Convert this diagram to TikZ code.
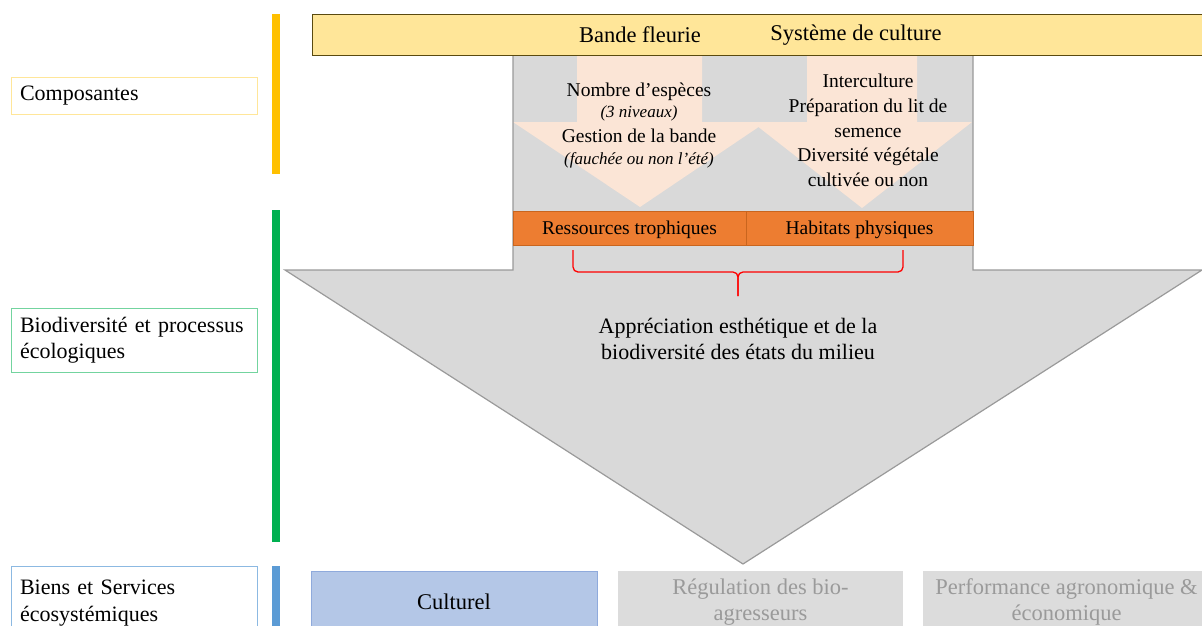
\documentclass[tikz,border=0pt]{standalone}
\usepackage{fontspec}
\setmainfont{Liberation Serif}
\usepackage{tikz}
\usetikzlibrary{calc}

\definecolor{jauneclair}{HTML}{FFE699}
\definecolor{bordbandeau}{HTML}{5A4A10}
\definecolor{grisfond}{HTML}{D9D9D9}
\definecolor{grisbord}{HTML}{9A9A9A}
\definecolor{peche}{HTML}{FBE5D6}
\definecolor{orangefonce}{HTML}{ED7D31}
\definecolor{bordorange}{HTML}{C9651E}
\definecolor{barrejaune}{HTML}{FFC000}
\definecolor{barreverte}{HTML}{00B050}
\definecolor{barrebleue}{HTML}{5B9BD5}
\definecolor{bleuclair}{HTML}{B4C7E7}
\definecolor{bordbleu}{HTML}{8FAADC}
\definecolor{grisclair}{HTML}{DCDCDC}
\definecolor{textegris}{HTML}{9A9A9A}
\definecolor{rougeacc}{HTML}{FF0000}

\begin{document}
\begin{tikzpicture}[x=1pt, y=-1pt,
  grand/.style={font=\fontsize{22.5}{25.5}\selectfont, align=center, inner sep=0pt},
  moyen/.style={font=\fontsize{19.5}{24.7}\selectfont, align=center, inner sep=0pt},
  etiquette/.style={draw, thin, fill=white, font=\fontsize{22}{26.5}\selectfont,
    align=left, text width=228pt, inner sep=9pt, minimum width=246pt},
  boiteorange/.style={draw=bordorange, fill=orangefonce, minimum height=34pt,
    font=\fontsize{19.5}{23}\selectfont, inner sep=0pt, text height=13pt, text depth=0pt},
  service/.style={minimum height=62pt, font=\fontsize{22.5}{26}\selectfont,
    align=center, inner sep=0pt}]
  \useasboundingbox (0,0) rectangle (1202,625);
  \clip (0,0) rectangle (1202,625);

  % Grande flèche grise
  \fill[grisfond] (513,50) -- (513,270) -- (285,270) -- (743,564)
    -- (1202,270) -- (973,270) -- (973,50) -- cycle;
  % Flèches pêche (bande fleurie / système de culture)
  \fill[peche] (577,55) -- (577,122) -- (513,122) -- (640,207)
    -- (766,122) -- (702,122) -- (702,55) -- cycle;
  \fill[peche] (807,55) -- (807,122) -- (752,122) -- (862,208)
    -- (972,122) -- (917,122) -- (917,55) -- cycle;
  \draw[grisbord, line width=1.2pt] (513,50) -- (513,270) -- (285,270) -- (743,564)
    -- (1202,270) -- (973,270) -- (973,50);

  % Bandeau supérieur
  \node[draw=bordbandeau, fill=jauneclair, line width=0.9pt, anchor=north west,
    minimum width=900pt, minimum height=41pt] (bandeau) at (312,14) {};
  \node[grand] (bande) at (640,35) {Bande fleurie};
  \node[grand] (systeme) at (856,35) {Système de culture};

  % Leviers
  \node[moyen, anchor=north] (leviers-bande) at (639,83) {Nombre d’espèces\\[-3.7pt]
    {\itshape\fontsize{17}{21}\selectfont (3 niveaux)}\\
    Gestion de la bande\\[-2.7pt]
    {\itshape\fontsize{17}{21}\selectfont (fauchée ou non l’été)}};
  \node[moyen, anchor=north] (leviers-culture) at (868,74) {Interculture\\
    Préparation du lit de\\semence\\Diversité végétale\\cultivée ou non};

  % Etats du milieu
  \node[boiteorange, minimum width=233pt] (ressources) at (629.5,228) {Ressources trophiques};
  \node[boiteorange, minimum width=227pt] (habitats) at (859.5,228) {Habitats physiques};

  % Accolade
  \coordinate (acc-g) at (573,250);
  \coordinate (acc-d) at (903,250);
  \coordinate (acc-m) at (738,272);
  \draw[rougeacc, line width=1.3pt, rounded corners=5pt] (acc-g) |- (acc-m) -- ++(0,24);
  \draw[rougeacc, line width=1.3pt, rounded corners=5pt] (acc-d) |- (acc-m) -- ++(0,24);
  \node[font=\fontsize{22}{26}\selectfont, align=center, inner sep=0pt] (appreciation)
    at (738,339) {Appréciation esthétique et de la\\biodiversité des états du milieu};

  % Barres verticales
  \fill[barrejaune] (272,14) rectangle (280,174);
  \fill[barreverte] (272,210) rectangle (280,542);
  \fill[barrebleue] (272,566) rectangle (280,630);

  % Etiquettes
  \node[etiquette, draw=jauneclair, minimum height=35pt] (composantes) at (134,95.5)
    {\mbox{Composantes}};
  \node[etiquette, draw=barreverte!55, minimum height=64pt] (biodiversite) at (134,340)
    {\mbox{Biodiversité et processus}\\écologiques};
  \node[etiquette, draw=barrebleue!70, minimum height=74pt] (biens) at (134,603)
    {\mbox{Biens et Services}\\écosystémiques};

  % Services
  \node[service, draw=bordbleu, fill=bleuclair, minimum width=286pt] (culturel)
    at (454,602) {Culturel};
  \node[service, fill=grisclair, text=textegris, minimum width=285pt] (regulation)
    at (760.5,602) {Régulation des bio-\\agresseurs};
  \node[service, fill=grisclair, text=textegris, minimum width=287pt] (performance)
    at (1066.5,602) {Performance agronomique \&\\économique};
\end{tikzpicture}
\end{document}
